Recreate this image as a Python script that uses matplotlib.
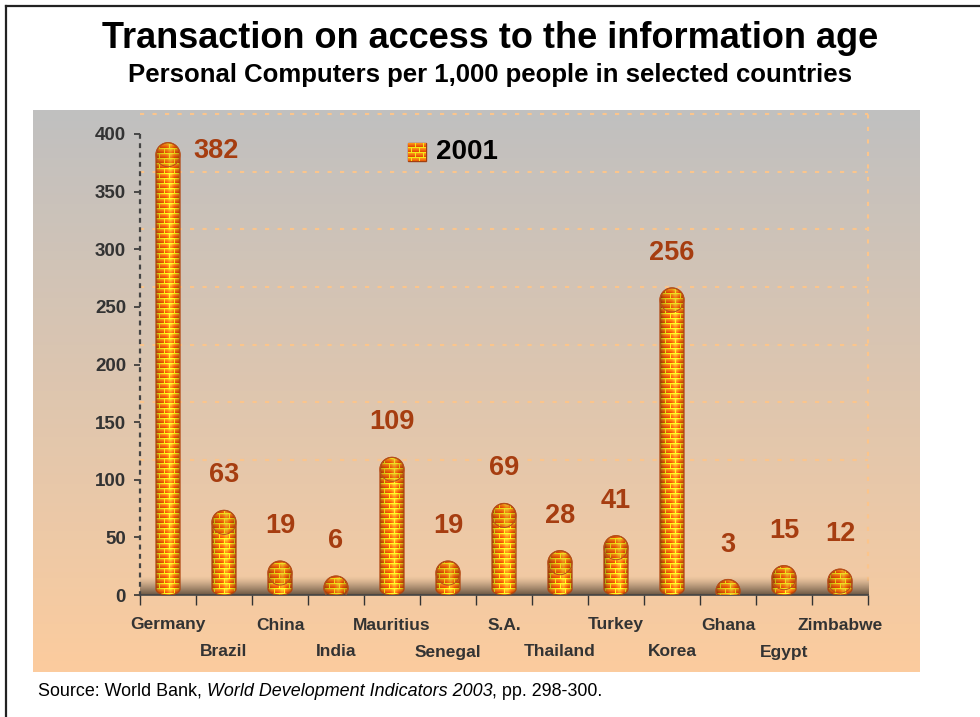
import numpy as np
import matplotlib
matplotlib.use("Agg")
import matplotlib.pyplot as plt
from matplotlib import transforms
from matplotlib.path import Path
from matplotlib.patches import PathPatch, Ellipse
from matplotlib.lines import Line2D
from matplotlib.offsetbox import OffsetImage, AnnotationBbox

plt.rcParams["font.family"] = ["Liberation Sans", "DejaVu Sans"]

countries = ["Germany", "Brazil", "China", "India", "Mauritius", "Senegal", "S.A.",
             "Thailand", "Turkey", "Korea", "Ghana", "Egypt", "Zimbabwe"]
pcs_2001 = [382, 63, 19, 6, 109, 19, 69, 28, 41, 256, 3, 15, 12]
y_ticks = [0, 50, 100, 150, 200, 250, 300, 350, 400]
series_name = "2001"

title = "Transaction on access to the information age"
subtitle = "Personal Computers per 1,000 people in selected countries"
source_parts = ["Source: World Bank, ", "World Development Indicators 2003", ", pp. 298-300."]

W, H, DPI = 980, 717, 100
LABEL_RED = "#a63d10"
TEXT_GREY = "#333333"


def px_rect(x0, y0, x1, y1):
    # pixel box measured from the top-left corner -> figure fraction rect
    return [x0 / W, 1 - y1 / H, (x1 - x0) / W, (y1 - y0) / H]


def brick_texture(h, w, brick_h=5, brick_w=10):
    rows = np.arange(h)[:, None]
    cols = np.arange(w)[None, :]
    course = rows // brick_h
    shift = (course % 2) * (brick_w // 2)
    in_row = rows % brick_h
    mortar = (in_row == brick_h - 1) | ((cols + shift) % brick_w == brick_w - 1)
    frac = (in_row / (brick_h - 2)).clip(0, 1)
    light = np.array([1.0, 0.56, 0.08])
    dark = np.array([0.90, 0.30, 0.02])
    brick = light + (dark - light) * frac[..., None]
    brick = np.broadcast_to(brick, (h, w, 3))
    mortar_col = np.array([0.95, 0.92, 0.10])
    return np.where(mortar[..., None], mortar_col, brick)


def capsule(xc, top, half_w, ry_top, ry_bot):
    th = np.linspace(0, np.pi, 40)
    top_arc = np.column_stack([xc + half_w * np.cos(th), top + ry_top * np.sin(th)])
    yb = min(ry_bot, top)
    th = np.linspace(np.pi, 2 * np.pi, 40)
    bot_arc = np.column_stack([xc + half_w * np.cos(th), yb + ry_bot * np.sin(th)])
    verts = np.vstack([top_arc, bot_arc, top_arc[:1]])
    codes = [Path.MOVETO] + [Path.LINETO] * (len(verts) - 2) + [Path.CLOSEPOLY]
    return Path(verts, codes)


fig = plt.figure(figsize=(W / DPI, H / DPI), dpi=DPI, facecolor="white")

# frame round the slide
fig.add_artist(Line2D([6 / W, 6 / W], [0, 1 - 6 / H], transform=fig.transFigure,
                      color="#222222", lw=1.6))
fig.add_artist(Line2D([6 / W, 1], [1 - 6 / H, 1 - 6 / H], transform=fig.transFigure,
                      color="#222222", lw=1.6))

# grey to peach backdrop
bg = fig.add_axes(px_rect(33, 110, 920, 672), zorder=0)
t = np.linspace(0, 1, 256)[:, None]
c_top = np.array([192, 192, 192]) / 255
c_bot = np.array([252, 204, 158]) / 255
grad = c_top + (c_bot - c_top) * t
bg.imshow(grad[:, None, :], aspect="auto", extent=[0, 1, 0, 1])
bg.axis("off")

ax = fig.add_axes(px_rect(140, 134, 868, 595), zorder=1)
ax.set_facecolor("none")
n = len(countries)
x = np.arange(n)

bbox = ax.get_window_extent()
px_per_x = bbox.width / n
px_per_y = bbox.height / (y_ticks[-1] - y_ticks[0])

bar_w = 24 / px_per_x
ry_top = 12 / px_per_y
ry_bot = 6 / px_per_y

# back wall grid, lifted for the 3D look
lift = transforms.offset_copy(ax.transData, fig=fig, x=0, y=20, units="dots")
for v in y_ticks[2:]:
    ax.plot([-0.5, n - 0.5], [v, v], transform=lift, ls=(0, (2, 4)), lw=1.5,
            color="#fbc58c", clip_on=False, zorder=1)
ax.plot([n - 0.5, n - 0.5], [-5, y_ticks[-1]], transform=lift, ls=(0, (2, 4)),
        lw=1.5, color="#fbc58c", clip_on=False, zorder=1)

# dark floor strip
floor = np.zeros((64, 2, 4))
floor[..., :3] = np.array([84, 68, 52]) / 255
floor[..., 3] = np.linspace(0, 0.9, 64)[:, None] ** 1.3
ax.imshow(floor, extent=[-0.5, n - 0.5, 0, 16], aspect="auto", zorder=2,
          interpolation="bilinear")

# brick cylinders: one textured image clipped to all bar outlines
th_px, tw_px = int(round(bbox.height)), int(round(bbox.width))
tex = brick_texture(th_px, tw_px)
col_x = -0.5 + (np.arange(tw_px) + 0.5) / px_per_x
tt = (col_x - np.round(col_x)) / (bar_w / 2)
body = np.sqrt(np.clip(1 - tt ** 2, 0, 1))
shade = 0.6 + 0.45 * body
glow = 0.28 * np.exp(-((tt - 0.2) / 0.22) ** 2)
tex = tex * shade[None, :, None] + glow[None, :, None] * np.array([1.0, 0.9, 0.3])
tex = tex.clip(0, 1)

paths = [capsule(xi, v, bar_w / 2, ry_top, ry_bot) for xi, v in zip(x, pcs_2001)]
im = ax.imshow(tex, extent=[-0.5, n - 0.5, y_ticks[0], y_ticks[-1]], aspect="auto",
               interpolation="nearest", zorder=3)
im.set_clip_path(Path.make_compound_path(*paths), ax.transData)

for xi, v, p in zip(x, pcs_2001, paths):
    ax.add_patch(PathPatch(p, facecolor="none", edgecolor="#b04510", lw=0.9, zorder=4))
    ax.add_patch(Ellipse((xi, v), bar_w, 2 * ry_top, facecolor=(0.55, 0.18, 0.0, 0.15),
                         edgecolor="#b8501a", lw=0.7, zorder=4))

# value labels
for xi, v in zip(x, pcs_2001):
    if v == max(pcs_2001):
        offset = (48, 4)
    else:
        offset = (0, 47)
    ax.annotate(str(v), (xi, v), xytext=offset, textcoords="offset pixels",
                ha="center", va="center", fontsize=19.5, fontweight="bold",
                color=LABEL_RED, zorder=5)

# axes styling
ax.set_xlim(-0.5, n - 0.5)
ax.set_ylim(y_ticks[0], y_ticks[-1])
for side in ("top", "right"):
    ax.spines[side].set_visible(False)
ax.spines["left"].set_linestyle((0, (1.2, 3)))
ax.spines["left"].set_color("#444444")
ax.spines["left"].set_linewidth(1.6)
ax.spines["bottom"].set_color("#444444")
ax.spines["bottom"].set_linewidth(1.2)

ax.set_yticks(y_ticks, labels=[str(v) for v in y_ticks], fontsize=13.5,
              fontweight="bold", color=TEXT_GREY)
ax.tick_params(axis="y", length=4, width=1.2, color="#333333", pad=6)
ax.set_xticks(np.arange(-0.5, n, 1.0))
ax.tick_params(axis="x", length=7, width=1.0, color="#333333", labelbottom=False)

# category names in two staggered rows
for xi, name in zip(x, countries):
    drop = -30 if xi % 2 == 0 else -57
    ax.annotate(name, (xi, 0), xytext=(0, drop), textcoords="offset pixels",
                ha="center", va="center", fontsize=12.5, fontweight="bold",
                color=TEXT_GREY, annotation_clip=False)

# series key
key_img = brick_texture(18, 18, brick_h=5, brick_w=8)
key_box = AnnotationBbox(OffsetImage(key_img, zoom=1, dpi_cor=False),
                         ((417 - 140) / bbox.width, (595 - 152) / bbox.height),
                         xycoords="axes fraction", frameon=True, pad=0,
                         bboxprops=dict(edgecolor="#a04010", lw=1))
ax.add_artist(key_box)
ax.text((436 - 140) / bbox.width, (595 - 152) / bbox.height, series_name,
        transform=ax.transAxes, ha="left", va="center", fontsize=20,
        fontweight="bold", color="black")

fig.text(0.5, 1 - 38 / H, title, ha="center", va="center", fontsize=26,
         fontweight="bold", color="black")
fig.text(0.5, 1 - 75 / H, subtitle, ha="center", va="center", fontsize=18.5,
         fontweight="bold", color="black")

# source line, the book title set in italics
prev = fig.text(38 / W, 1 - 691 / H, source_parts[0], ha="left", va="center",
                fontsize=12.9, color="black")
for part, style in zip(source_parts[1:], ["italic", "normal"]):
    prev = bg.annotate(part, xy=(1, 0), xycoords=prev, ha="left", va="bottom",
                       fontsize=12.9, style=style, color="black",
                       annotation_clip=False)

fig.savefig("out.png", dpi=DPI)
